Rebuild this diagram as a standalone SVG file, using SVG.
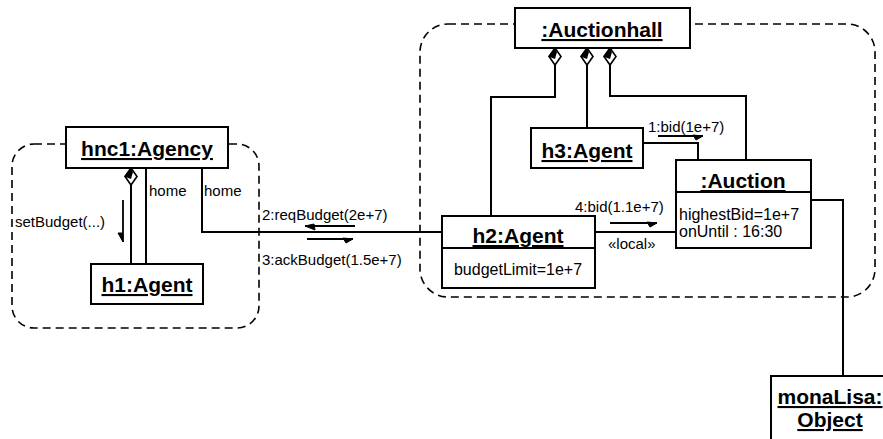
<svg xmlns="http://www.w3.org/2000/svg" width="883" height="439" viewBox="0 0 883 439">
  <style>
    .region { fill: none; stroke: #000; stroke-width: 1.6; stroke-dasharray: 8 5; }
    .box { fill: #fff; stroke: #000; stroke-width: 2; }
    .line { fill: none; stroke: #000; stroke-width: 2; }
    .msg { fill: none; stroke: #000; stroke-width: 1.8; }
    .head { fill: #000; stroke: #000; stroke-width: 1; stroke-linejoin: round; }
    .title { font-family: "Liberation Sans", Arial, sans-serif; font-weight: bold; font-size: 21px; text-decoration: underline; text-anchor: middle; fill: #000; }
    .attr { font-family: "Liberation Sans", Arial, sans-serif; font-size: 16px; fill: #000; }
    .label { font-family: "Liberation Sans", Arial, sans-serif; font-size: 15px; fill: #000; }
  </style>
  <defs>
    <!-- composition diamond, tip at origin pointing up -->
    <g id="diamond">
      <polygon points="0,0 6,8.5 0,17 -6,8.5" fill="#fff" stroke="#000" stroke-width="1.6"/>
      <polygon points="0,0 -7,8.5 0,11 2,4" fill="#000"/>
    </g>
  </defs>

  <!-- location regions -->
  <g id="agency-region">
    <rect class="region" x="12" y="144" width="247" height="184" rx="22" ry="22"/>
  </g>
  <g id="auctionhall-region">
    <rect class="region" x="420" y="24" width="455" height="273" rx="28" ry="28"/>
  </g>

  <!-- links -->
  <g id="connectors">
    <line class="line" x1="131" y1="185" x2="131" y2="264"/>
    <line class="line" x1="146" y1="168" x2="146" y2="264"/>
    <polyline class="line" points="202,168 202,232 442,232"/>
    <polyline class="line" points="491,216 491,97 555,97 555,65"/>
    <line class="line" x1="587" y1="65" x2="587" y2="128"/>
    <polyline class="line" points="610,65 610,96 746,96 746,160"/>
    <polyline class="line" points="643,143 698,143 698,160"/>
    <line class="line" x1="595" y1="232" x2="676" y2="232"/>
    <polyline class="line" points="811,200 843,200 843,376"/>
    <use href="#diamond" x="131" y="168"/>
    <use href="#diamond" x="555" y="48"/>
    <use href="#diamond" x="587" y="48"/>
    <use href="#diamond" x="610" y="48"/>

    <!-- messages -->
    <line class="msg" x1="123" y1="200" x2="123" y2="242"/>
    <polygon class="head" points="123,242 118,233 122,233"/>
    <line class="msg" x1="305" y1="226" x2="355" y2="226"/>
    <polygon class="head" points="305,226 314,224 315,230"/>
    <line class="msg" x1="307" y1="239" x2="353" y2="239"/>
    <polygon class="head" points="353,239 343,238 346,243"/>
    <line class="msg" x1="610" y1="223" x2="657" y2="223"/>
    <polygon class="head" points="657,223 647,222 650,227"/>
    <line class="msg" x1="658" y1="136" x2="703" y2="136"/>
    <polygon class="head" points="703,136 693,135 696,140"/>
  </g>

  <!-- objects -->
  <g id="agency">
    <rect class="box" x="66" y="127" width="162" height="41"/>
    <text class="title" x="147" y="156">hnc1:Agency</text>
  </g>
  <g id="h1">
    <rect class="box" x="91" y="264" width="112" height="40"/>
    <text class="title" x="147" y="292">h1:Agent</text>
  </g>
  <g id="h2">
    <rect class="box" x="442" y="216" width="153" height="72"/>
    <line class="line" x1="442" y1="248" x2="595" y2="248"/>
    <text class="title" x="518" y="243">h2:Agent</text>
    <text class="attr" x="518" y="275" text-anchor="middle">budgetLimit=1e+7</text>
  </g>
  <g id="auctionhall">
    <rect class="box" x="515" y="8" width="175" height="40"/>
    <text class="title" x="602" y="37">:Auctionhall</text>
  </g>
  <g id="h3">
    <rect class="box" x="531" y="128" width="112" height="40"/>
    <text class="title" x="587" y="158">h3:Agent</text>
  </g>
  <g id="auction">
    <rect class="box" x="676" y="160" width="135" height="88"/>
    <line class="line" x1="676" y1="192" x2="811" y2="192"/>
    <text class="title" x="743" y="188">:Auction</text>
    <text class="attr" x="679" y="220">highestBid=1e+7</text>
    <text class="attr" x="679" y="237">onUntil : 16:30</text>
  </g>
  <g id="monalisa">
    <rect class="box" x="771" y="376" width="122" height="72"/>
    <text class="title" x="830" y="404">monaLisa:</text>
    <text class="title" x="830" y="427">Object</text>
  </g>

  <!-- link and message labels -->
  <g id="labels">
    <text class="label" x="149" y="196">home</text>
    <text class="label" x="204" y="196">home</text>
    <text class="label" x="15" y="227">setBudget(...)</text>
    <text class="label" x="262" y="220">2:reqBudget(2e+7)</text>
    <text class="label" x="262" y="265">3:ackBudget(1.5e+7)</text>
    <text class="label" x="575" y="212">4:bid(1.1e+7)</text>
    <text class="label" x="608" y="249">«local»</text>
    <text class="label" x="648" y="132">1:bid(1e+7)</text>
  </g>
</svg>
